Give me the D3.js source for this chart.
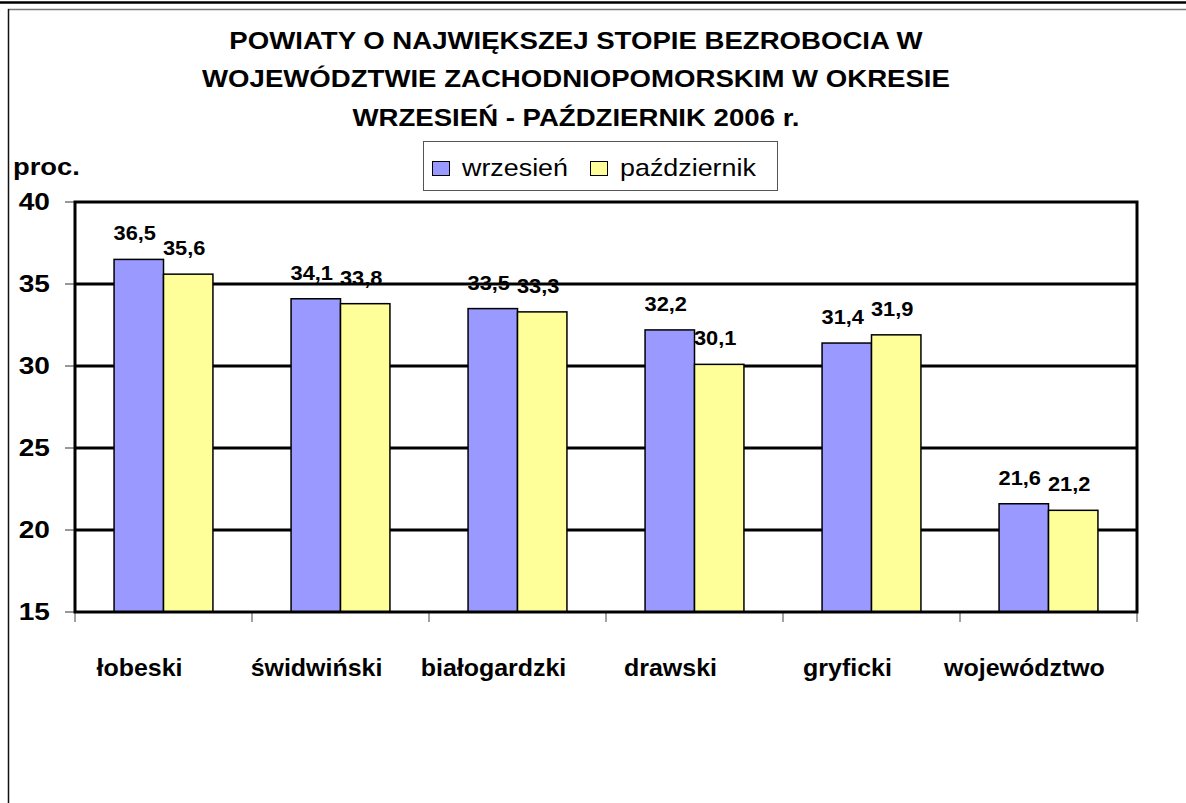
<!DOCTYPE html>
<meta charset="utf-8">
<style>
body { margin: 0; background: #fff; }
text { font-family: "Liberation Sans", Arial, sans-serif; fill: #000; }
.bold { font-weight: bold; }
</style>
<body>
<script src="https://cdn.jsdelivr.net/npm/d3@7"></script>
<script>

// data
var titleLines = ["POWIATY O NAJWIĘKSZEJ STOPIE BEZROBOCIA W",
                  "WOJEWÓDZTWIE ZACHODNIOPOMORSKIM W OKRESIE",
                  "WRZESIEŃ - PAŹDZIERNIK 2006 r."];
var yUnit = "proc.";
var categories = ["łobeski", "świdwiński", "białogardzki", "drawski", "gryficki", "województwo"];
var seriesNames = ["wrzesień", "październik"];
var wrzesien = [36.5, 34.1, 33.5, 32.2, 31.4, 21.6];
var pazdziernik = [35.6, 33.8, 33.3, 30.1, 31.9, 21.2];
var yTicks = [15, 20, 25, 30, 35, 40];

var colors = ["#9999ff", "#ffff99"];

var width = 1186, height = 803;
var plot = {left: 75, right: 1137, top: 202, bottom: 612};

var pl = d3.formatLocale({decimal: ",", thousands: " ", grouping: [3], currency: ["", " zł"]});
var fmt = pl.format(".1f");

var svg = d3.select("body").append("svg")
    .attr("width", width)
    .attr("height", height);

// text in the original is drawn a bit wider than the font
function stretch(sel, sx) {
  sel.attr("transform", function() {
    var x = +this.getAttribute("x"), y = +this.getAttribute("y");
    return "translate(" + x + "," + y + ") scale(" + sx + ",1) translate(" + (-x) + "," + (-y) + ")";
  });
}

// outer frame lines
svg.append("line").attr("x1", 0).attr("x2", width).attr("y1", 2.5).attr("y2", 2.5)
    .attr("stroke", "#000").attr("stroke-width", 2.5);
svg.append("line").attr("x1", 8).attr("x2", width).attr("y1", 9.5).attr("y2", 9.5)
    .attr("stroke", "#777").attr("stroke-width", 1.5);
svg.append("line").attr("x1", 8.5).attr("x2", 8.5).attr("y1", 9).attr("y2", height)
    .attr("stroke", "#111").attr("stroke-width", 1.5);

// title
svg.append("g").selectAll("text")
    .data(titleLines)
    .enter().append("text")
    .attr("class", "bold")
    .attr("x", 576)
    .attr("y", function(d, i) { return 49 + i * 38.5; })
    .attr("text-anchor", "middle")
    .style("font-size", "23px")
    .text(function(d) { return d; })
    .call(stretch, 1.2);

// scales
var x0 = d3.scaleBand().domain(categories).range([plot.left, plot.right]).padding(0);
var x1 = d3.scaleBand().domain(seriesNames).range([0, x0.bandwidth()]).paddingInner(0).paddingOuter(0.79);
var y = d3.scaleLinear().domain([15, 40]).range([plot.bottom, plot.top]);

var rows = categories.map(function(c, i) {
  return {cat: c, vals: [{s: seriesNames[0], v: wrzesien[i], k: 0}, {s: seriesNames[1], v: pazdziernik[i], k: 1}]};
});

// gridlines
svg.append("g").selectAll("line")
    .data(yTicks.slice(1, -1))
    .enter().append("line")
    .attr("x1", plot.left).attr("x2", plot.right)
    .attr("y1", function(d) { return y(d); }).attr("y2", function(d) { return y(d); })
    .attr("stroke", "#000").attr("stroke-width", 3);

// y axis: ticks + labels
var yAxis = svg.append("g");
yAxis.selectAll("line")
    .data(yTicks)
    .enter().append("line")
    .attr("x1", plot.left - 10).attr("x2", plot.left)
    .attr("y1", function(d) { return y(d); }).attr("y2", function(d) { return y(d); })
    .attr("stroke", "#333").attr("stroke-width", 1);
yAxis.selectAll("text")
    .data(yTicks)
    .enter().append("text")
    .attr("class", "bold")
    .attr("x", 50)
    .attr("y", function(d) { return y(d) + 8.5; })
    .attr("text-anchor", "end")
    .style("font-size", "24px")
    .text(function(d) { return d; })
    .call(stretch, 1.17);

svg.append("text")
    .attr("class", "bold")
    .attr("x", 13).attr("y", 175)
    .style("font-size", "24px")
    .text(yUnit)
    .call(stretch, 1.14);

// x axis ticks at category boundaries
var xb = categories.map(function(c) { return x0(c); }).concat([plot.right]);
svg.append("g").selectAll("line")
    .data(xb)
    .enter().append("line")
    .attr("x1", function(d) { return d; }).attr("x2", function(d) { return d; })
    .attr("y1", plot.bottom).attr("y2", plot.bottom + 10)
    .attr("stroke", "#444").attr("stroke-width", 1);

// bars
var groups = svg.append("g").selectAll("g")
    .data(rows)
    .enter().append("g")
    .attr("transform", function(d) { return "translate(" + x0(d.cat) + ",0)"; });

groups.selectAll("rect")
    .data(function(d) { return d.vals; })
    .enter().append("rect")
    .attr("x", function(d) { return x1(d.s); })
    .attr("y", function(d) { return y(d.v); })
    .attr("width", x1.bandwidth())
    .attr("height", function(d) { return y(15) - y(d.v); })
    .attr("fill", function(d) { return colors[d.k]; })
    .attr("stroke", "#000")
    .attr("stroke-width", 1.5);

groups.selectAll("text")
    .data(function(d) { return d.vals; })
    .enter().append("text")
    .attr("class", "bold")
    .attr("x", function(d) { return x1(d.s) + x1.bandwidth() / 2 - 4; })
    .attr("y", function(d) { return y(d.v) - 19; })
    .attr("text-anchor", "middle")
    .style("font-size", "21px")
    .text(function(d) { return fmt(d.v); })
    .call(stretch, 1.04);

// plot frame
svg.append("rect")
    .attr("x", plot.left).attr("y", plot.top)
    .attr("width", plot.right - plot.left).attr("height", plot.bottom - plot.top)
    .attr("fill", "none").attr("stroke", "#000").attr("stroke-width", 3);

// category labels
svg.append("g").selectAll("text")
    .data(categories)
    .enter().append("text")
    .attr("class", "bold")
    .attr("x", function(d) { return x0(d) + x0.bandwidth() / 2 - 24; })
    .attr("y", 676)
    .attr("text-anchor", "middle")
    .style("font-size", "24px")
    .text(function(d) { return d; })
    .call(stretch, 1.04);

// legend
var legend = svg.append("g");
legend.append("rect")
    .attr("x", 423.5).attr("y", 141.5).attr("width", 354).attr("height", 49)
    .attr("fill", "#fff").attr("stroke", "#555").attr("stroke-width", 1);

var legX = [432, 590];
var items = legend.selectAll("g.item")
    .data(seriesNames)
    .enter().append("g").attr("class", "item");
items.append("rect")
    .attr("x", function(d, i) { return legX[i] + 0.5; })
    .attr("y", 161.5)
    .attr("width", 17).attr("height", 14)
    .attr("fill", function(d, i) { return colors[i]; })
    .attr("stroke", "#000").attr("stroke-width", 1);
items.append("text")
    .attr("x", function(d, i) { return legX[i] + 30; })
    .attr("y", 176)
    .style("font-size", "24px")
    .text(function(d) { return d; })
    .call(stretch, 1.12);

</script>
</body>
